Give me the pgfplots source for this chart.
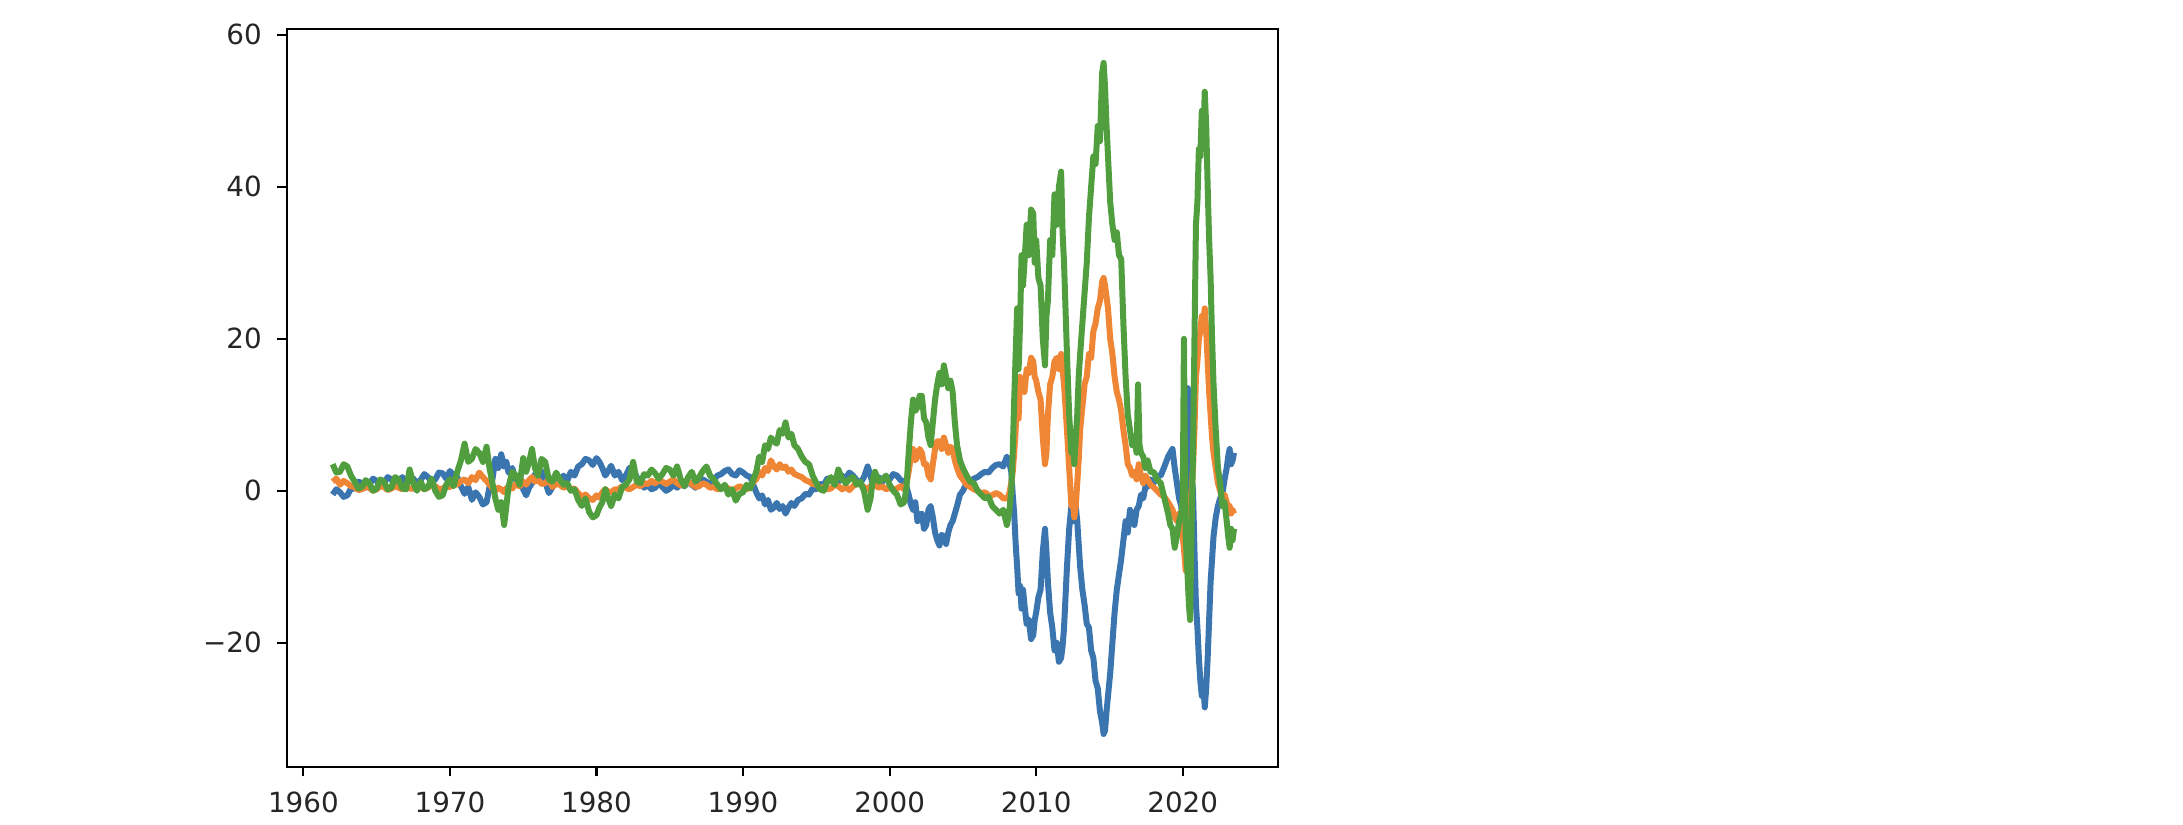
\documentclass[border=0pt]{standalone}
\usepackage{pgfplots}
\pgfplotsset{compat=1.18}
\usepackage{fontspec}
\setmainfont{DejaVu Sans}
\definecolor{tabblue}{HTML}{3A75AF}
\definecolor{taborange}{HTML}{EF8636}
\definecolor{tabgreen}{HTML}{519E3E}
\begin{document}
\begin{tikzpicture}
\useasboundingbox (0,0) rectangle (545.75pt,206pt);
\begin{axis}[
  at={(71.7pt,14.33pt)}, anchor=south west,
  scale only axis=true,
  width=247.8pt, height=184.4pt,
  xmin=1958.87, xmax=2026.5,
  ymin=-36.3, ymax=60.75,
  xtick={1960,1970,1980,1990,2000,2010,2020},
  xticklabels={1960,1970,1980,1990,2000,2010,2020},
  ytick={-20,0,20,40,60},
  yticklabels={−20,0,20,40,60},
  tick pos=left,
  tick align=outside,
  major tick length=2.43pt,
  every tick/.style={black, line width=0.56pt},
  axis line style={line width=0.56pt, black},
  tick label style={font=\fontsize{6.94}{8}\selectfont, text=black!85},
  xticklabel style={yshift=-0.3pt},
  yticklabel style={xshift=-0.3pt},
  every axis plot/.append style={line width=1.5pt, line join=round, mark=none},
  clip=true,
]
\addplot[tabblue] coordinates {
(1962.0,-0.5) (1962.25,0.2) (1962.5,-0.2) (1962.75,-0.8) (1963.0,-0.6) (1963.25,0.3) (1963.5,0.3) (1963.75,1.2)
(1964.0,1.0) (1964.25,0.4) (1964.5,0.8) (1964.75,1.6) (1965.0,1.3) (1965.25,0.6) (1965.5,1.0) (1965.75,1.8)
(1966.0,1.5) (1966.25,0.8) (1966.5,1.2) (1966.75,1.8) (1967.0,1.0) (1967.25,1.9) (1967.5,1.6) (1967.75,1.0)
(1968.0,1.4) (1968.25,2.2) (1968.5,1.8) (1968.75,1.2) (1969.0,1.5) (1969.25,2.4) (1969.5,2.3) (1969.75,1.6)
(1970.0,2.6) (1970.25,2.0) (1970.5,1.8) (1970.75,0.6) (1971.0,-0.4) (1971.25,0.5) (1971.5,-1.2) (1971.75,-0.2)
(1972.0,-0.8) (1972.25,-1.8) (1972.5,-1.5) (1972.7,0.5) (1972.9,1.5) (1973.1,4.2) (1973.3,3.0) (1973.5,4.8)
(1973.7,3.2) (1973.85,3.8) (1974.0,2.4) (1974.25,3.0) (1974.5,1.4) (1974.75,2.0) (1975.0,0.2) (1975.2,-0.6)
(1975.4,0.4) (1975.6,1.0) (1975.8,2.2) (1976.0,1.8) (1976.25,2.6) (1976.5,1.2) (1976.75,-0.3) (1977.0,0.5)
(1977.25,1.6) (1977.5,1.2) (1977.75,2.0) (1978.0,1.3) (1978.25,2.5) (1978.5,2.0) (1978.75,3.2) (1979.0,3.5)
(1979.25,4.2) (1979.5,4.0) (1979.75,3.4) (1980.0,4.3) (1980.2,3.8) (1980.4,3.0) (1980.6,2.0) (1980.8,2.6)
(1981.0,3.3) (1981.25,2.0) (1981.5,2.5) (1981.75,1.4) (1982.0,2.0) (1982.25,3.0) (1982.5,2.8) (1982.75,1.8)
(1983.0,1.2) (1983.25,0.4) (1983.5,0.8) (1983.75,0.2) (1984.0,0.4) (1984.25,1.0) (1984.5,0.5) (1984.75,0.0)
(1985.0,0.3) (1985.25,0.8) (1985.5,0.4) (1985.75,1.0) (1986.0,0.6) (1986.25,1.2) (1986.5,0.8) (1986.75,0.4)
(1987.0,0.9) (1987.25,1.5) (1987.5,1.2) (1987.75,0.8) (1988.0,1.5) (1988.25,2.0) (1988.5,2.2) (1988.75,2.6)
(1989.0,2.8) (1989.25,2.2) (1989.5,2.0) (1989.75,2.7) (1990.0,2.4) (1990.25,2.0) (1990.5,1.8) (1990.7,0.8)
(1990.9,-0.2) (1991.1,-1.0) (1991.3,-0.6) (1991.5,-1.8) (1991.7,-1.2) (1991.9,-2.5) (1992.1,-2.2) (1992.3,-1.6)
(1992.5,-2.4) (1992.7,-2.0) (1992.9,-3.0) (1993.1,-2.2) (1993.3,-1.6) (1993.5,-2.0) (1993.75,-1.2) (1994.0,-1.0)
(1994.25,-0.4) (1994.5,-0.5) (1994.75,0.3) (1995.0,0.2) (1995.25,0.9) (1995.5,0.8) (1995.75,1.6) (1996.0,1.5)
(1996.25,0.9) (1996.5,1.2) (1996.75,2.0) (1997.0,1.6) (1997.25,2.4) (1997.5,2.0) (1997.75,1.4) (1998.0,1.0)
(1998.25,1.8) (1998.5,3.2) (1998.7,2.0) (1998.85,0.8) (1999.0,1.0) (1999.25,1.8) (1999.5,1.2) (1999.75,1.8)
(2000.0,1.5) (2000.25,2.2) (2000.5,2.0) (2000.75,1.4) (2001.0,1.2) (2001.15,0.5) (2001.3,-0.5) (2001.45,-1.8)
(2001.6,-2.5) (2001.75,-1.5) (2001.9,-4.0) (2002.05,-3.2) (2002.2,-3.0) (2002.35,-5.0) (2002.5,-4.5) (2002.65,-2.5)
(2002.8,-2.0) (2002.95,-3.5) (2003.1,-5.5) (2003.25,-6.5) (2003.4,-7.2) (2003.55,-5.8) (2003.7,-6.0) (2003.85,-7.0)
(2004.0,-5.5) (2004.15,-4.5) (2004.3,-4.0) (2004.45,-3.0) (2004.6,-2.0) (2004.8,-0.5) (2005.0,0.0) (2005.25,1.0)
(2005.5,1.0) (2005.75,1.6) (2006.0,1.8) (2006.25,2.2) (2006.5,2.5) (2006.75,2.4) (2007.0,3.0) (2007.25,3.4)
(2007.5,3.5) (2007.75,3.2) (2008.0,4.5) (2008.15,3.8) (2008.3,2.5) (2008.4,-0.5) (2008.5,-3.0) (2008.6,-7.0)
(2008.7,-10.0) (2008.8,-13.5) (2008.9,-12.5) (2009.0,-15.5) (2009.1,-13.0) (2009.2,-15.0) (2009.35,-17.5) (2009.5,-17.0)
(2009.65,-19.5) (2009.8,-19.0) (2009.9,-17.0) (2010.0,-16.0) (2010.15,-14.0) (2010.3,-13.0) (2010.45,-8.0) (2010.6,-5.0)
(2010.7,-8.0) (2010.8,-12.0) (2010.95,-16.0) (2011.1,-18.0) (2011.25,-21.0) (2011.4,-20.0) (2011.55,-22.5) (2011.7,-22.0)
(2011.8,-20.5) (2011.9,-18.0) (2012.0,-14.0) (2012.1,-10.0) (2012.25,-5.0) (2012.4,-2.0) (2012.5,-4.0) (2012.6,-3.5)
(2012.7,-2.0) (2012.8,-4.0) (2012.9,-7.0) (2013.0,-10.0) (2013.15,-13.0) (2013.3,-15.0) (2013.45,-17.5) (2013.6,-18.0)
(2013.75,-21.0) (2013.9,-22.0) (2014.05,-25.0) (2014.2,-26.0) (2014.35,-29.0) (2014.5,-30.5) (2014.6,-32.0) (2014.7,-31.5)
(2014.8,-29.0) (2014.9,-27.0) (2015.05,-24.0) (2015.2,-20.0) (2015.35,-16.0) (2015.5,-13.0) (2015.65,-11.0) (2015.8,-9.0)
(2015.95,-6.5) (2016.1,-4.0) (2016.25,-5.5) (2016.4,-2.5) (2016.55,-3.5) (2016.7,-4.5) (2016.85,-2.5) (2017.0,-2.0)
(2017.15,-0.5) (2017.3,-1.0) (2017.45,0.5) (2017.6,0.5) (2017.8,1.5) (2018.0,1.0) (2018.25,2.0) (2018.5,2.0)
(2018.75,3.2) (2019.0,4.5) (2019.15,5.0) (2019.3,5.5) (2019.45,3.0) (2019.6,1.0) (2019.75,-1.0) (2019.9,-2.0)
(2020.0,-4.5) (2020.1,-4.0) (2020.2,-6.0) (2020.3,6.0) (2020.35,13.5) (2020.42,8.0) (2020.5,5.0) (2020.6,2.0)
(2020.7,0.0) (2020.8,-8.0) (2020.9,-15.0) (2021.0,-18.0) (2021.1,-22.0) (2021.2,-25.0) (2021.3,-27.0) (2021.4,-25.5)
(2021.5,-28.5) (2021.6,-26.0) (2021.7,-22.0) (2021.8,-17.0) (2021.9,-12.0) (2022.0,-9.0) (2022.1,-6.0) (2022.25,-3.5)
(2022.4,-2.0) (2022.55,-1.0) (2022.7,-0.5) (2022.85,1.5) (2023.0,3.0) (2023.1,4.5) (2023.2,5.5) (2023.3,3.5)
(2023.4,4.0) (2023.5,5.0)
};
\addplot[taborange] coordinates {
(1962.0,1.2) (1962.25,1.6) (1962.5,0.8) (1962.75,1.3) (1963.0,1.0) (1963.25,0.6) (1963.5,0.5) (1963.75,0.1)
(1964.0,0.2) (1964.25,0.5) (1964.5,0.4) (1964.75,0.0) (1965.0,0.2) (1965.25,0.6) (1965.5,0.5) (1965.75,0.1)
(1966.0,0.3) (1966.25,0.6) (1966.5,0.4) (1966.75,0.2) (1967.0,0.6) (1967.25,0.3) (1967.5,0.3) (1967.75,0.7)
(1968.0,0.5) (1968.25,0.2) (1968.5,0.4) (1968.75,0.8) (1969.0,0.6) (1969.25,0.2) (1969.5,0.3) (1969.75,0.6)
(1970.0,0.5) (1970.25,0.9) (1970.5,0.8) (1970.75,1.3) (1971.0,1.5) (1971.25,1.0) (1971.5,1.8) (1971.75,1.4)
(1972.0,2.4) (1972.25,1.8) (1972.5,1.3) (1972.7,0.8) (1972.9,0.4) (1973.1,0.0) (1973.3,0.4) (1973.5,0.2)
(1973.7,-0.2) (1973.85,0.3) (1974.0,0.5) (1974.25,0.3) (1974.5,0.9) (1974.75,0.6) (1975.0,1.2) (1975.2,0.8)
(1975.4,1.4) (1975.6,1.8) (1975.8,1.2) (1976.0,1.5) (1976.25,0.9) (1976.5,1.0) (1976.75,1.5) (1977.0,0.5)
(1977.25,0.9) (1977.5,0.8) (1977.75,0.4) (1978.0,0.6) (1978.25,0.2) (1978.5,0.3) (1978.75,-0.3) (1979.0,-0.8)
(1979.25,-0.5) (1979.5,-1.0) (1979.75,-1.2) (1980.0,-0.6) (1980.2,-0.9) (1980.4,-0.2) (1980.6,0.2) (1980.8,-0.1)
(1981.0,-0.2) (1981.25,0.2) (1981.5,0.2) (1981.75,0.6) (1982.0,0.4) (1982.25,0.2) (1982.5,0.5) (1982.75,0.8)
(1983.0,0.6) (1983.25,1.0) (1983.5,0.9) (1983.75,1.3) (1984.0,1.0) (1984.25,1.4) (1984.5,1.2) (1984.75,0.9)
(1985.0,1.2) (1985.25,1.5) (1985.5,1.0) (1985.75,0.7) (1986.0,0.8) (1986.25,1.2) (1986.5,0.9) (1986.75,0.5)
(1987.0,0.6) (1987.25,1.0) (1987.5,0.8) (1987.75,0.4) (1988.0,0.5) (1988.25,0.2) (1988.5,0.3) (1988.75,0.6)
(1989.0,0.3) (1989.25,0.0) (1989.5,0.3) (1989.75,0.6) (1990.0,0.4) (1990.25,0.2) (1990.5,0.5) (1990.7,1.2)
(1990.9,1.5) (1991.1,2.5) (1991.3,2.0) (1991.5,3.0) (1991.7,2.6) (1991.9,4.0) (1992.1,3.2) (1992.3,2.8)
(1992.5,3.5) (1992.7,3.0) (1992.9,3.2) (1993.1,2.5) (1993.3,2.8) (1993.5,2.2) (1993.75,2.0) (1994.0,1.8)
(1994.25,1.4) (1994.5,1.2) (1994.75,0.9) (1995.0,0.8) (1995.25,0.4) (1995.5,0.5) (1995.75,0.2) (1996.0,0.3)
(1996.25,0.8) (1996.5,0.6) (1996.75,0.2) (1997.0,0.5) (1997.25,0.1) (1997.5,0.6) (1997.75,1.0) (1998.0,0.8)
(1998.25,0.5) (1998.5,0.2) (1998.7,0.6) (1998.85,1.0) (1999.0,0.8) (1999.25,0.4) (1999.5,0.6) (1999.75,0.2)
(2000.0,0.4) (2000.25,0.1) (2000.5,0.3) (2000.75,0.6) (2001.0,0.2) (2001.15,1.0) (2001.3,2.5) (2001.45,4.5)
(2001.6,5.5) (2001.75,4.0) (2001.9,4.5) (2002.05,5.5) (2002.2,5.0) (2002.35,3.5) (2002.5,3.5) (2002.65,2.0)
(2002.8,1.5) (2002.95,3.5) (2003.1,5.5) (2003.25,6.5) (2003.4,6.5) (2003.55,5.5) (2003.7,7.0) (2003.85,6.0)
(2004.0,5.0) (2004.15,5.8) (2004.3,5.5) (2004.45,4.0) (2004.6,3.0) (2004.8,2.0) (2005.0,1.5) (2005.25,0.8)
(2005.5,0.5) (2005.75,0.2) (2006.0,0.0) (2006.25,-0.3) (2006.5,-0.2) (2006.75,-0.6) (2007.0,-0.6) (2007.25,-0.3)
(2007.5,-0.5) (2007.75,-1.0) (2008.0,-1.0) (2008.15,-0.5) (2008.3,1.0) (2008.4,2.5) (2008.5,5.0) (2008.6,8.0)
(2008.7,12.0) (2008.8,9.5) (2008.9,15.0) (2009.0,13.0) (2009.1,14.5) (2009.2,13.0) (2009.35,16.0) (2009.5,15.5)
(2009.65,17.5) (2009.8,17.0) (2009.9,15.0) (2010.0,14.5) (2010.15,13.0) (2010.3,12.0) (2010.45,7.0) (2010.6,3.5)
(2010.7,5.0) (2010.8,10.0) (2010.95,14.0) (2011.1,15.0) (2011.25,17.0) (2011.4,17.5) (2011.55,16.0) (2011.7,18.0)
(2011.8,16.0) (2011.9,14.0) (2012.0,11.0) (2012.1,8.0) (2012.25,3.0) (2012.4,-2.0) (2012.5,-1.0) (2012.6,-3.5)
(2012.7,-2.0) (2012.8,1.0) (2012.9,4.0) (2013.0,8.0) (2013.15,11.0) (2013.3,14.0) (2013.45,15.0) (2013.6,18.0)
(2013.75,17.5) (2013.9,21.0) (2014.05,22.0) (2014.2,24.0) (2014.35,25.0) (2014.5,27.5) (2014.6,28.0) (2014.7,27.0)
(2014.8,25.5) (2014.9,24.0) (2015.05,20.0) (2015.2,18.0) (2015.35,15.0) (2015.5,13.0) (2015.65,12.0) (2015.8,10.5)
(2015.95,8.0) (2016.1,6.0) (2016.25,3.5) (2016.4,3.0) (2016.55,2.0) (2016.7,2.5) (2016.85,1.5) (2017.0,3.5)
(2017.15,2.0) (2017.3,1.0) (2017.45,2.0) (2017.6,1.5) (2017.8,0.8) (2018.0,0.5) (2018.25,0.0) (2018.5,-0.5)
(2018.75,-0.8) (2019.0,-1.5) (2019.15,-2.0) (2019.3,-2.5) (2019.45,-3.5) (2019.6,-4.0) (2019.75,-3.0) (2019.9,-5.0)
(2020.0,-6.0) (2020.1,-8.0) (2020.2,-10.5) (2020.3,-9.0) (2020.35,-6.0) (2020.42,-5.0) (2020.5,-2.0) (2020.6,0.0)
(2020.7,3.0) (2020.8,8.0) (2020.9,15.0) (2021.0,17.0) (2021.1,20.0) (2021.2,21.0) (2021.3,23.0) (2021.4,22.0)
(2021.5,24.0) (2021.6,21.0) (2021.7,17.0) (2021.8,13.0) (2021.9,10.0) (2022.0,7.0) (2022.1,5.0) (2022.25,3.0)
(2022.4,1.0) (2022.55,0.0) (2022.7,-1.0) (2022.85,-0.5) (2023.0,-1.5) (2023.1,-2.5) (2023.2,-2.0) (2023.3,-3.0)
(2023.4,-2.5) (2023.5,-3.0)
};
\addplot[tabgreen] coordinates {
(1962.0,3.5) (1962.25,2.4) (1962.5,2.5) (1962.75,3.5) (1963.0,3.2) (1963.25,2.0) (1963.5,1.2) (1963.75,0.3)
(1964.0,0.5) (1964.25,1.4) (1964.5,1.0) (1964.75,0.0) (1965.0,0.3) (1965.25,1.5) (1965.5,1.2) (1965.75,0.2)
(1966.0,0.4) (1966.25,1.8) (1966.5,1.5) (1966.75,0.3) (1967.0,0.2) (1967.25,2.8) (1967.5,1.0) (1967.75,0.0)
(1968.0,1.2) (1968.25,0.2) (1968.5,0.5) (1968.75,1.6) (1969.0,0.0) (1969.25,-0.8) (1969.5,-0.6) (1969.75,0.8)
(1970.0,1.5) (1970.25,0.6) (1970.5,2.5) (1970.75,4.0) (1971.0,6.2) (1971.25,3.8) (1971.5,4.2) (1971.75,5.5)
(1972.0,5.0) (1972.25,3.8) (1972.5,5.8) (1972.7,3.0) (1972.9,1.0) (1973.1,-1.0) (1973.3,-2.5) (1973.5,-1.5)
(1973.7,-4.5) (1973.85,-2.0) (1974.0,0.5) (1974.25,2.5) (1974.5,2.0) (1974.75,0.8) (1975.0,4.3) (1975.2,2.5)
(1975.4,3.8) (1975.6,5.5) (1975.8,3.0) (1976.0,2.0) (1976.25,4.2) (1976.5,3.8) (1976.75,1.5) (1977.0,1.2)
(1977.25,2.4) (1977.5,1.5) (1977.75,0.8) (1978.0,1.0) (1978.25,0.0) (1978.5,0.2) (1978.75,-1.2) (1979.0,-2.0)
(1979.25,-1.0) (1979.5,-2.8) (1979.75,-3.5) (1980.0,-3.2) (1980.2,-2.2) (1980.4,-1.5) (1980.6,0.2) (1980.8,-1.0)
(1981.0,-2.0) (1981.25,-0.5) (1981.5,-1.0) (1981.75,0.5) (1982.0,0.8) (1982.25,1.5) (1982.5,3.8) (1982.75,1.2)
(1983.0,1.0) (1983.25,2.2) (1983.5,2.0) (1983.75,2.8) (1984.0,2.3) (1984.25,1.6) (1984.5,2.2) (1984.75,3.0)
(1985.0,2.8) (1985.25,2.0) (1985.5,3.2) (1985.75,1.5) (1986.0,0.6) (1986.25,1.8) (1986.5,2.5) (1986.75,1.2)
(1987.0,1.8) (1987.25,2.6) (1987.5,3.2) (1987.75,2.0) (1988.0,1.5) (1988.25,0.8) (1988.5,0.2) (1988.75,0.8)
(1989.0,-0.5) (1989.25,0.2) (1989.5,-1.3) (1989.75,-0.4) (1990.0,-0.2) (1990.25,0.8) (1990.5,0.3) (1990.7,1.5)
(1990.9,2.5) (1991.1,4.5) (1991.3,3.8) (1991.5,6.0) (1991.7,5.5) (1991.9,7.0) (1992.1,6.5) (1992.3,6.2)
(1992.5,8.0) (1992.7,7.5) (1992.9,9.0) (1993.1,7.0) (1993.3,7.5) (1993.5,6.0) (1993.75,5.5) (1994.0,4.5)
(1994.25,3.8) (1994.5,3.5) (1994.75,2.0) (1995.0,1.0) (1995.25,0.2) (1995.5,0.0) (1995.75,1.2) (1996.0,1.8)
(1996.25,0.8) (1996.5,2.8) (1996.75,1.6) (1997.0,1.0) (1997.25,1.5) (1997.5,1.8) (1997.75,0.8) (1998.0,1.2)
(1998.25,0.0) (1998.5,-2.5) (1998.7,-1.0) (1998.85,1.5) (1999.0,2.5) (1999.25,1.2) (1999.5,1.5) (1999.75,2.0)
(2000.0,0.8) (2000.25,0.0) (2000.5,-0.5) (2000.75,-1.8) (2001.0,-1.5) (2001.15,0.5) (2001.3,5.0) (2001.45,9.0)
(2001.6,12.0) (2001.75,10.5) (2001.9,11.0) (2002.05,12.5) (2002.2,12.5) (2002.35,9.5) (2002.5,9.0) (2002.65,7.0)
(2002.8,6.0) (2002.95,9.0) (2003.1,12.0) (2003.25,14.0) (2003.4,15.5) (2003.55,14.0) (2003.7,16.5) (2003.85,15.0)
(2004.0,13.5) (2004.15,14.5) (2004.3,13.0) (2004.45,9.0) (2004.6,6.0) (2004.8,4.0) (2005.0,3.0) (2005.25,2.0)
(2005.5,1.2) (2005.75,1.0) (2006.0,0.0) (2006.25,-0.5) (2006.5,-1.0) (2006.75,-0.8) (2007.0,-2.0) (2007.25,-2.5)
(2007.5,-3.0) (2007.75,-2.5) (2008.0,-4.5) (2008.15,-3.0) (2008.3,0.0) (2008.4,5.0) (2008.5,12.0) (2008.6,18.0)
(2008.7,24.0) (2008.8,16.0) (2008.9,22.0) (2009.0,31.0) (2009.1,27.0) (2009.2,30.0) (2009.35,35.0) (2009.5,31.0)
(2009.65,37.0) (2009.8,36.5) (2009.9,30.0) (2010.0,33.0) (2010.15,28.0) (2010.3,27.0) (2010.45,20.0) (2010.6,16.5)
(2010.7,23.0) (2010.8,25.0) (2010.95,33.0) (2011.1,31.0) (2011.25,39.0) (2011.4,35.0) (2011.55,40.0) (2011.7,42.0)
(2011.8,34.0) (2011.9,30.0) (2012.0,24.0) (2012.1,18.0) (2012.25,10.0) (2012.4,5.0) (2012.5,6.5) (2012.6,3.5)
(2012.7,7.0) (2012.8,10.0) (2012.9,15.0) (2013.0,18.0) (2013.15,22.0) (2013.3,26.0) (2013.45,30.0) (2013.6,36.0)
(2013.75,40.0) (2013.9,44.0) (2014.05,43.0) (2014.2,48.0) (2014.35,46.0) (2014.5,55.0) (2014.6,56.3) (2014.7,53.0)
(2014.8,48.0) (2014.9,44.0) (2015.05,38.0) (2015.2,35.0) (2015.35,33.0) (2015.5,34.0) (2015.65,31.0) (2015.8,30.5)
(2015.95,22.0) (2016.1,15.0) (2016.25,10.0) (2016.4,8.0) (2016.55,6.0) (2016.7,7.0) (2016.85,5.0) (2016.95,14.0)
(2017.05,6.0) (2017.15,5.0) (2017.3,4.5) (2017.45,3.0) (2017.6,4.0) (2017.8,2.5) (2018.0,2.5) (2018.25,1.5)
(2018.5,1.0) (2018.75,-1.0) (2019.0,-3.0) (2019.15,-4.5) (2019.3,-5.0) (2019.45,-7.5) (2019.6,-6.0) (2019.75,-4.0)
(2019.9,-3.0) (2020.0,-1.0) (2020.08,20.0) (2020.15,3.0) (2020.2,-6.0) (2020.3,-10.0) (2020.35,-12.0) (2020.42,-15.0)
(2020.5,-17.0) (2020.6,-5.0) (2020.7,5.0) (2020.8,20.0) (2020.9,35.0) (2021.0,38.0) (2021.1,45.0) (2021.2,44.0)
(2021.3,50.0) (2021.4,46.0) (2021.5,52.5) (2021.6,48.0) (2021.7,40.0) (2021.8,33.0) (2021.9,28.0) (2022.0,20.0)
(2022.1,14.0) (2022.25,8.0) (2022.4,3.0) (2022.55,1.0) (2022.7,-2.0) (2022.85,-1.5) (2023.0,-4.0) (2023.1,-6.0)
(2023.2,-7.5) (2023.3,-5.0) (2023.4,-6.5) (2023.5,-5.0)
};
\end{axis}
\end{tikzpicture}
\end{document}
